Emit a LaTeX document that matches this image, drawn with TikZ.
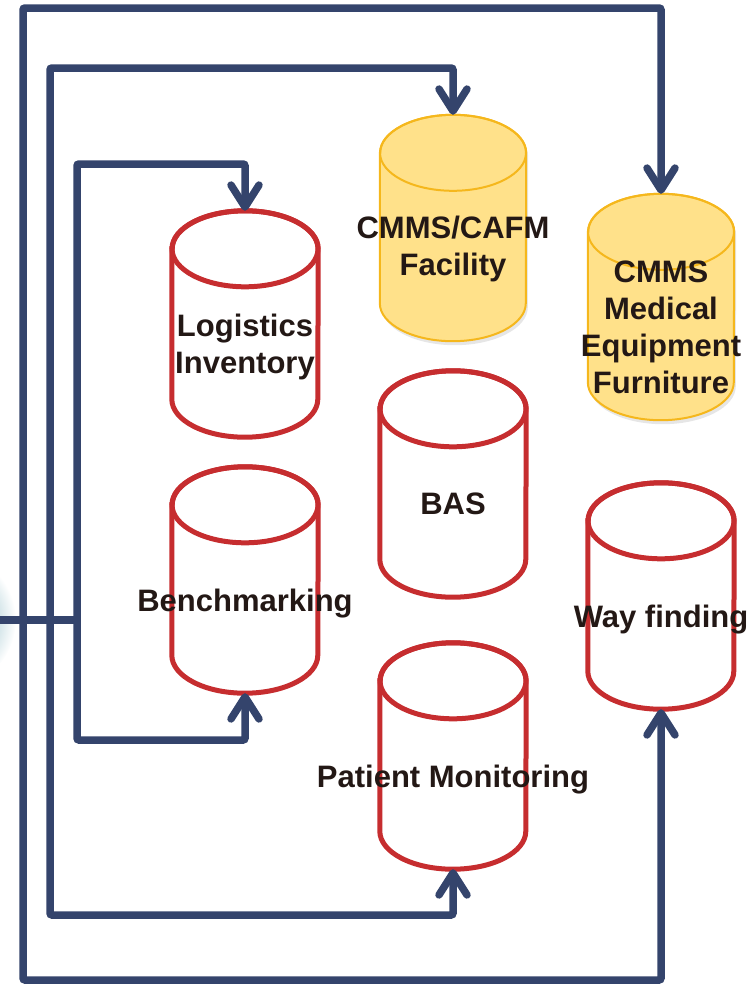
\documentclass[tikz,border=0pt]{standalone}
\usepackage{fontspec}
\setmainfont{Liberation Sans}
\definecolor{linkblue}{RGB}{52, 68, 108}
\definecolor{cylred}{RGB}{198, 45, 47}
\definecolor{cylgold}{RGB}{245, 183, 28}
\definecolor{cylfill}{RGB}{255, 225, 138}
\definecolor{txtbrown}{RGB}{35, 24, 21}
\definecolor{glowteal}{RGB}{40, 125, 145}
\usetikzlibrary{arrows.meta, calc, shadows}

\tikzset{
  slot/.style={minimum width=146pt, minimum height=226pt, inner sep=0pt},
  redcyl/.style={draw=cylred, line width=5pt, fill=white},
  redrim/.style={draw=cylred, line width=5pt},
  goldcyl/.style={draw=cylgold, line width=2pt, fill=cylfill,
    drop shadow={opacity=0.2, shadow xshift=2pt, shadow yshift=-4pt}},
  goldrim/.style={draw=cylgold, line width=2pt},
  feed/.style={draw=linkblue, line width=7.5pt, rounded corners=2pt, <->},
  lbl/.style={font=\fontsize{31}{37}\selectfont\bfseries, text=txtbrown, align=center, inner sep=0pt}
}

% cylinder drawn round a slot node
\newcommand{\drum}[3]{%
  \path[#2] ($(#1.north west)+(0,-38)$) -- ($(#1.south west)+(0,38)$)
    arc[start angle=180, end angle=360, x radius=73pt, y radius=38pt]
    -- ($(#1.north east)+(0,-38)$)
    arc[start angle=0, end angle=180, x radius=73pt, y radius=38pt] -- cycle;
  \path[#3] ($(#1.north)+(0,-38)$) ellipse[x radius=73pt, y radius=38pt];
}

\begin{document}
\begin{tikzpicture}[x=1pt, y=1pt, >={Straight Barb[length=22pt, width=28pt, round]}]
  \useasboundingbox (0,0) rectangle (752,-985);
  \clip (0,0) rectangle (752,-985);

  % glow on the left edge
  \node[circle, minimum size=136pt, inner color=glowteal!80, outer color=white] (hub) at (-52,-620) {};

  % slots for the databases
  \node[slot] (logi) at (245,-324) {};
  \node[slot] (bench) at (245,-580) {};
  \node[slot] (cafm) at (453,-228) {};
  \node[slot] (bas) at (453,-484) {};
  \node[slot] (patient) at (453,-756) {};
  \node[slot] (medeq) at (661,-307) {};
  \node[slot] (wayf) at (661,-596) {};

  \drum{logi}{redcyl}{redrim}
  \drum{bench}{redcyl}{redrim}
  \drum{cafm}{goldcyl}{goldrim}
  \drum{bas}{redcyl}{redrim}
  \drum{patient}{redcyl}{redrim}
  \drum{medeq}{goldcyl}{goldrim}
  \drum{wayf}{redcyl}{redrim}

  % feeds
  \draw[draw=linkblue, line width=7.5pt] (hub.center) -- (77,-620);
  \draw[feed] (logi.north) |- (77,-164) -- (77,-740) -| (bench.south);
  \draw[feed] (cafm.north) |- (50,-68) -- (50,-915) -| (patient.south);
  \draw[feed] (medeq.north) |- (23,-8) -- (23,-980) -| (wayf.south);

  % labels (base = last line)
  \node[lbl, anchor=base] (logi-lbl) at (245,-373) {Logistics\\Inventory};
  \node[lbl, anchor=base] (bench-lbl) at (245,-611) {Benchmarking};
  \node[lbl, anchor=base] (cafm-lbl) at (453,-275) {CMMS/CAFM\\Facility};
  \node[lbl, anchor=base] (bas-lbl) at (453,-514) {BAS};
  \node[lbl, anchor=base] (patient-lbl) at (453,-787) {Patient Monitoring};
  \node[lbl, anchor=base] (medeq-lbl) at (661,-393) {CMMS\\Medical\\Equipment\\Furniture};
  \node[lbl, anchor=base] (wayf-lbl) at (661,-627) {Way finding};
\end{tikzpicture}
\end{document}
